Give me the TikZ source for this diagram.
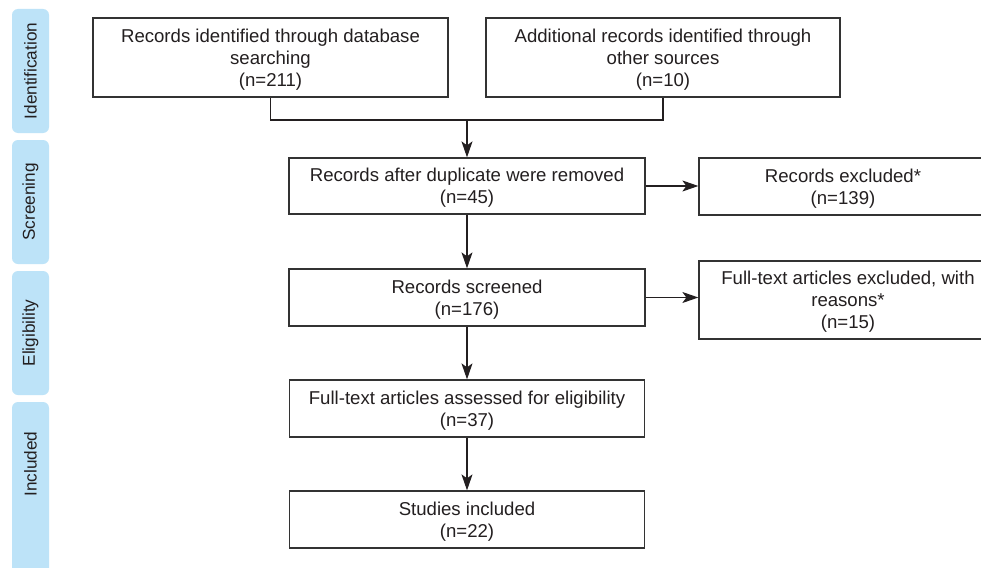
\documentclass[tikz,border=0pt]{standalone}
\usepackage{fontspec}
\setmainfont{Liberation Sans}
\usetikzlibrary{arrows.meta}
\definecolor{barblue}{HTML}{BDE3F8}
\definecolor{linegray}{HTML}{333333}
\definecolor{txtgray}{HTML}{231F20}
\tikzset{
  box/.style={draw=linegray, line width=1.3pt, fill=white, align=center, inner sep=0pt,
    text depth=0pt, text=txtgray, font=\fontsize{18.6}{21.8}\selectfont},
  bar/.style={fill=barblue, rounded corners=6pt, rotate=90, minimum height=37pt, inner sep=0pt,
    text=txtgray, font=\fontsize{17.2}{20}\selectfont},
  conn/.style={draw=txtgray, line width=1.1pt},
  arr/.style={conn, -{Stealth[length=16pt, width=11pt, inset=4pt]}}
}
\begin{document}
\begin{tikzpicture}[x=1pt,y=-1pt]
\clip (0,0) rectangle (981,567);
\fill[white] (0,0) rectangle (981,567);
% phase bars
\node[bar, minimum width=124pt] (idb) at (30.5,71) {Identification};
\node[bar, minimum width=124pt] (scb) at (30.5,202) {Screening};
\node[bar, minimum width=124pt] (elb) at (30.5,333) {Eligibility};
\node[bar, minimum width=190pt] (inb) at (30.5,497) {};
\node[rotate=90, text=txtgray, font=\fontsize{17.2}{20}\selectfont] (inct) at (30.5,464) {Included};
% boxes
\node[box, minimum width=355pt, minimum height=79pt] (db) at (270.5,57.5)
  {Records identified through database\\searching\\(n=211)};
\node[box, minimum width=354pt, minimum height=79pt] (oth) at (663,57.5)
  {Additional records identified through\\other sources\\(n=10)};
\node[box, minimum width=356pt, minimum height=56pt] (dup) at (467,186)
  {Records after duplicate were removed\\(n=45)};
\node[box, minimum width=288pt, minimum height=57pt] (ex1) at (843,186.5)
  {Records excluded*\\(n=139)};
\node[box, minimum width=356pt, minimum height=57pt] (scr) at (467,297.5)
  {Records screened\\(n=176)};
\node[box, minimum width=298pt, minimum height=78pt] (ex2) at (848,300)
  {Full-text articles excluded, with\\reasons*\\(n=15)};
\node[box, minimum width=355pt, minimum height=57pt] (ass) at (467,408.5)
  {Full-text articles assessed for eligibility\\(n=37)};
\node[box, minimum width=355pt, minimum height=57pt] (inc) at (467,519.5)
  {Studies included\\(n=22)};
% connectors
\coordinate (j) at (467,120);
\draw[conn] (db.south) -- (db.south |- j) -- (oth.south |- j) -- (oth.south);
\draw[arr] (j) -- (dup.north);
\draw[arr] (dup.east) -- (dup.east -| ex1.west);
\draw[arr] (dup.south) -- (scr.north);
\draw[arr] (scr.east) -- (scr.east -| ex2.west);
\draw[arr] (scr.south) -- (ass.north);
\draw[arr] (ass.south) -- (inc.north);
\end{tikzpicture}
\end{document}
